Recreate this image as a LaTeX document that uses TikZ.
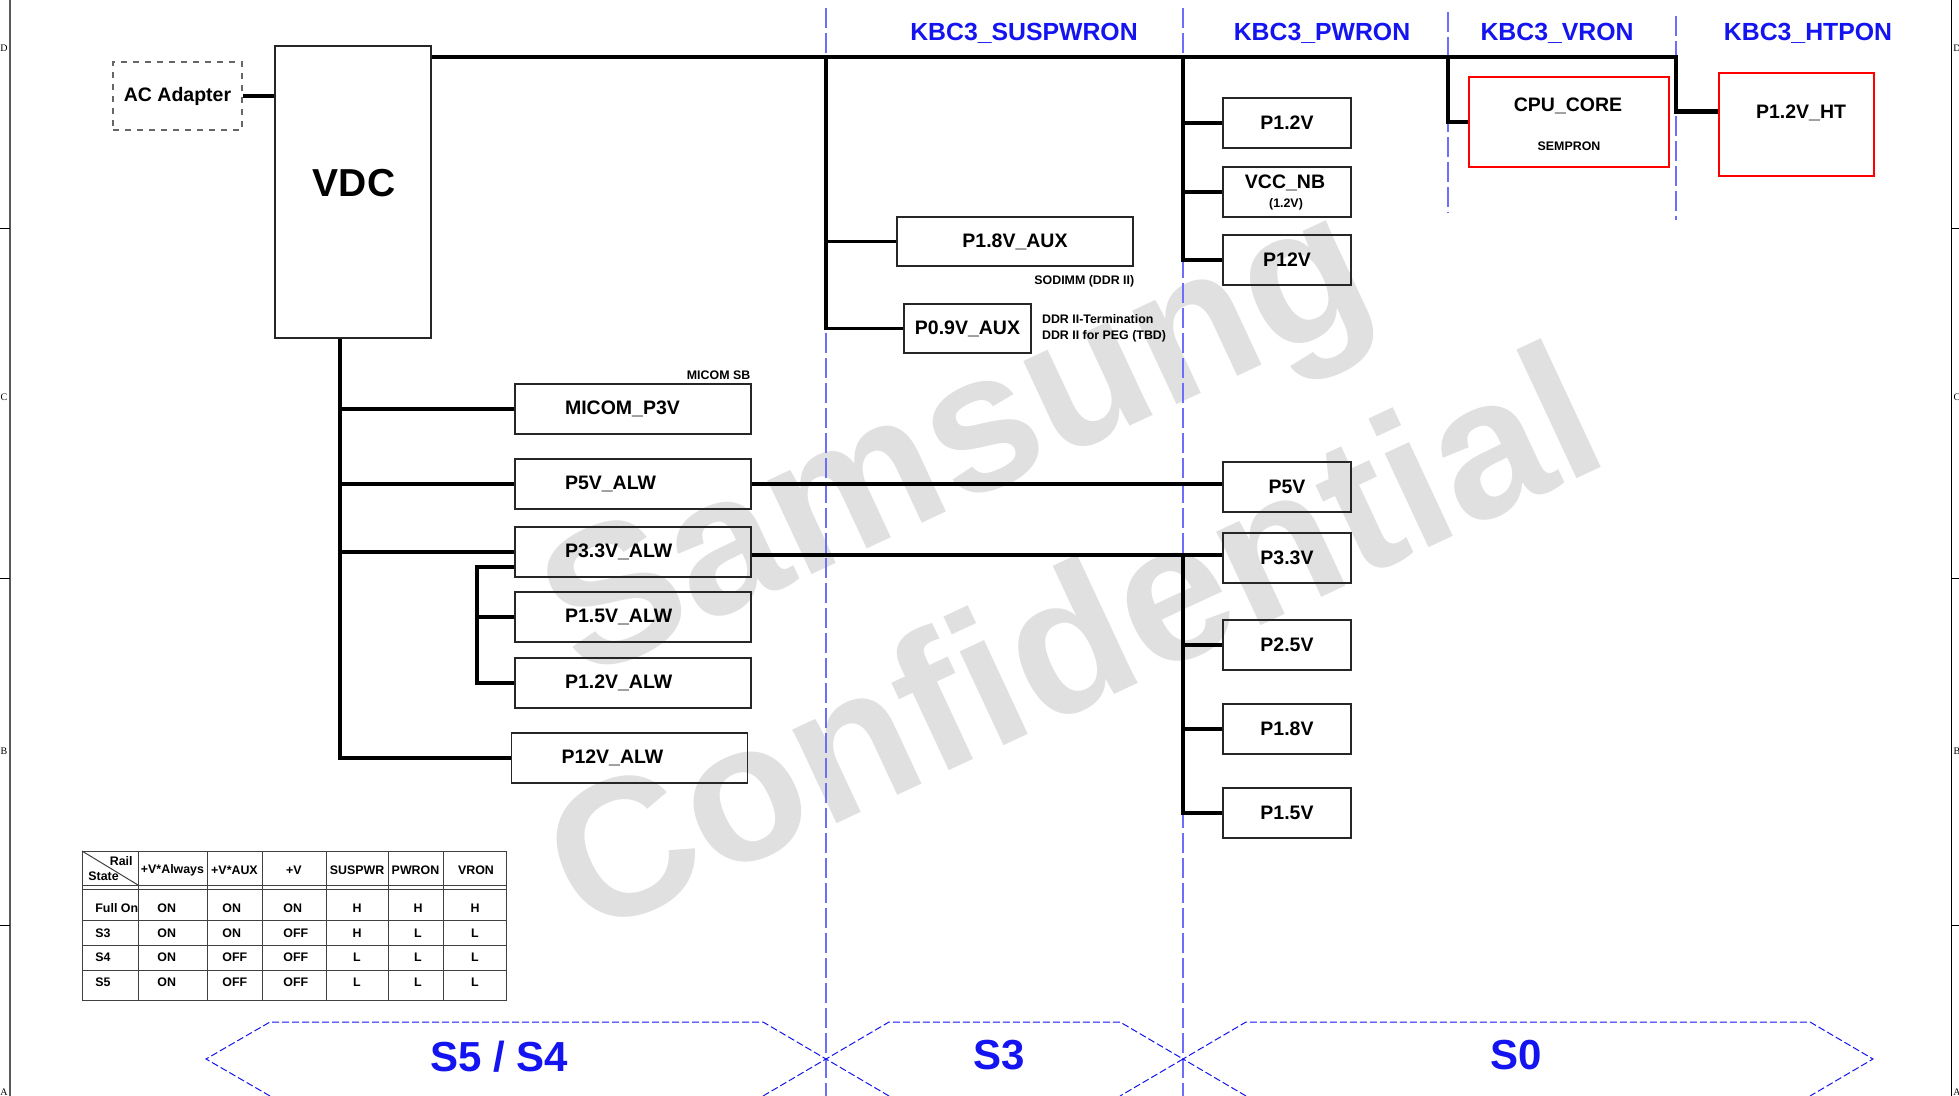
\documentclass[tikz,border=0pt]{standalone}
\usepackage{fontspec}
\setmainfont{Liberation Sans}
\newfontfamily\serifletters{Liberation Serif}
\usetikzlibrary{positioning,calc}

\definecolor{kbcblue}{RGB}{20,20,240}
\definecolor{phaseblue}{RGB}{110,110,250}
\definecolor{wmark}{RGB}{224,224,224}
\definecolor{frameline}{RGB}{90,90,90}

\begin{document}
\begin{tikzpicture}[
	x=0.5pt, y=-0.5pt,
	lbl/.style={inner sep=0pt, font=\bfseries\fontsize{9.75}{11}\selectfont},
	rail/.style={lbl, rectangle, draw=black!85, line width=0.65pt},
	alw/.style={rail, minimum height=25pt, text width=68pt, inner xsep=25pt, align=left},
	vbox/.style={rail, minimum width=64pt, minimum height=25pt},
	cpu/.style={rail, draw=red},
	note/.style={inner sep=0pt, font=\bfseries\fontsize{6.2}{8}\selectfont},
	kbc/.style={inner sep=0pt, text=kbcblue, font=\bfseries\fontsize{12.4}{14}\selectfont},
	state/.style={inner sep=0pt, text=kbcblue, font=\bfseries\fontsize{21}{24}\selectfont},
	bus/.style={line width=2.3pt},
	wire/.style={line width=1.6pt},
	phase/.style={draw=phaseblue, line width=0.65pt, dash pattern=on 10pt off 2.5pt},
	hexa/.style={draw=kbcblue, line width=0.5pt, dash pattern=on 3.5pt off 1.5pt},
	tline/.style={draw=black!75, line width=0.5pt},
	cell/.style={inner sep=0pt, font=\bfseries\fontsize{6.2}{7.5}\selectfont},
	wmtext/.style={inner sep=0pt, text=wmark, rotate=25, font=\bfseries\fontsize{98}{100}\selectfont},
	zone/.style={inner sep=0pt, font=\serifletters\fontsize{5}{6}\selectfont}
]
\useasboundingbox (0,0) rectangle (1959,1096);

% --- Watermark ---
\node[wmtext] (wm1) at (962,452) {Samsung};
\node[wmtext] (wm2) at (1071,637) {Confidential};

% --- Sheet frame ---
\draw[frameline, line width=0.8pt] (10,0) -- (10,1096);
\draw[line width=0.5pt] (1951,0) -- (1951,1096);
\foreach \ty in {229,578,925} {
  \draw[line width=0.5pt] (0,\ty) -- (10,\ty);
  \draw[line width=0.5pt] (1951,\ty) -- (1959,\ty);
}
\foreach \zl/\zy in {D/48,C/397,B/751,A/1092} {
  \node[zone] (zl\zl) at (4,\zy) {\zl};
  \node[zone] (zr\zl) at (1957,\zy) {\zl};
}

% --- Power state boundaries ---
\draw[phase] (826,8) -- (826,1096);
\draw[phase] (1183,8) -- (1183,1096);
\draw[phase] (1448,12) -- (1448,213);
\draw[phase] (1676,16) -- (1676,220);

\node[kbc] (lsus) at (1024,33) {KBC3\_SUSPWRON};
\node[kbc] (lpwr) at (1322,33) {KBC3\_PWRON};
\node[kbc] (lvr) at (1557,33) {KBC3\_VRON};
\node[kbc] (lhtp) at (1808,33) {KBC3\_HTPON};

\coordinate (sus) at (826,57);
\coordinate (pwr) at (1183,57);
\coordinate (vr) at (1448,57);
\coordinate (htp) at (1676,57);

% --- Source ---
\node[rail, dashed, draw=black!60, minimum width=64.5pt, minimum height=34pt] (acad) at (177.5,96) {AC Adapter};
\node[rail, minimum width=78pt, minimum height=146pt] (vdc) at (353,192) {};
\node[inner sep=0pt, font=\bfseries\fontsize{19.5}{22}\selectfont] (vdcT) at (354,183) {VDC};

% --- Always rails ---
\node[alw] (micom) at (633,409) {MICOM\_P3V};
\node[note, above left=1.5pt and 0.5pt of micom.north east] (micomsb) {MICOM SB};
\node[alw] (p5alw) at (633,484) {P5V\_ALW};
\node[alw] (p33alw) at (633,552) {P3.3V\_ALW};
\node[alw] (p15alw) at (633,617) {P1.5V\_ALW};
\node[alw] (p12alw) at (633,683) {P1.2V\_ALW};
\node[alw] (p12valw) at (629.5,758) {P12V\_ALW};

% --- AUX rails ---
\node[rail, minimum width=118pt, minimum height=24.5pt] (p18aux) at (1015,241.5) {P1.8V\_AUX};
\node[note, below left=4pt and -0.5pt of p18aux.south east] (sodimm) {SODIMM (DDR II)};
\node[rail, minimum width=63.5pt, minimum height=24.5pt] (p09aux) at (967.5,328.5) {P0.9V\_AUX};
\node[note, align=left, right=5pt of p09aux] (ddrnote) {DDR II-Termination\\DDR II for PEG (TBD)};

% --- Run rails ---
\node[vbox] (p12) at (1287,123) {P1.2V};
\node[vbox] (vccnb) at (1287,192) {};
\node[lbl] (vccnbT) at (1285,183) {VCC\_NB};
\node[note] (vccnbV) at (1286,204) {(1.2V)};
\node[vbox] (p12v) at (1287,260) {P12V};

\node[vbox] (p5) at (1287,487) {P5V};
\node[vbox] (p33) at (1287,558) {P3.3V};
\node[vbox] (p25) at (1287,645) {P2.5V};
\node[vbox] (p18) at (1287,729) {P1.8V};
\node[vbox] (p15) at (1287,813) {P1.5V};

% --- CPU rails ---
\node[cpu, minimum width=100pt, minimum height=45pt] (cpucore) at (1569,122) {};
\node[lbl] (cpucoreT) at (1568,106) {CPU\_CORE};
\node[note] (sempron) at (1569,146) {SEMPRON};
\node[cpu, minimum width=77.5pt, minimum height=51.5pt] (p12ht) at (1796.5,124.5) {};
\node[lbl] (p12htT) at (1801,113) {P1.2V\_HT};

% --- Connections ---
\draw[bus] (acad.east) -- (acad.east -| vdc.west);
\draw[bus] (vdc.east |- sus) -- (htp) |- ([yshift=6.5pt]p12ht.west);
\draw[wire] (sus) |- (p09aux.west);
\draw[wire] (sus |- p18aux.west) -- (p18aux.west);
\draw[bus] (pwr) |- (p12v.west);
\draw[bus] (pwr |- p12.west) -- (p12.west);
\draw[bus] (pwr |- vccnb.west) -- (vccnb.west);
\draw[bus] (vr) |- (cpucore.west);

\coordinate (vdcout) at ([xshift=-6.5pt]vdc.south);
\draw[bus] (vdcout) |- (p12valw.west);
\foreach \n in {micom,p5alw,p33alw}
  \draw[bus] (vdcout |- \n.west) -- (\n.west);
\coordinate (tap) at (477,567);
\draw[bus] ([yshift=-7.5pt]p33alw.west) -- (tap) |- (p12alw.west);
\draw[bus] (tap |- p15alw.west) -- (p15alw.west);

\draw[wire] (p5alw.east) -- (p5alw.east -| p5.west);
\coordinate (j33) at (1183,555);
\draw[wire] ([yshift=-1.5pt]p33alw.east) -- (j33 -| p33.west);
\draw[wire] (j33) |- (p15.west);
\foreach \n in {p25,p18}
  \draw[wire] (j33 |- \n.west) -- (\n.west);

% --- Power states ---
\draw[hexa] (270,1096) -- (206,1059) -- (270,1022) -- (763,1022) -- (826,1059) -- (763,1096);
\draw[hexa] (889,1096) -- (826,1059) -- (889,1022) -- (1120,1022) -- (1183,1059) -- (1120,1096);
\draw[hexa] (1246,1096) -- (1183,1059) -- (1246,1022) -- (1810,1022) -- (1873,1059) -- (1810,1096);
\node[state] (s54) at (499,1057) {S5 / S4};
\node[state] (s3) at (999,1055) {S3};
\node[state] (s0) at (1516,1055) {S0};

% --- Rail state table ---
\draw[tline] (82,851) rectangle (506,1000);
\foreach \cx in {138,207,262,326,388,443} \draw[tline] (\cx,851) -- (\cx,1000);
\foreach \ry in {885,889,920,945,970} \draw[tline] (82,\ry) -- (506,\ry);
\draw[tline] (82,851) -- (138,885);
\node[cell, anchor=east] (hrail) at (133,861) {Rail};
\node[cell, anchor=west] (hstate) at (88,876) {State};
\foreach \txt/\cx [count=\k] in {+V*Always/172.5, +V*AUX/234.5, +V/294, SUSPWR/357, PWRON/415.5, VRON/476}
  \node[cell] (h\k) at (\cx,870) {\txt};
\foreach \st/\a/\b/\c/\d/\e/\f/\ry [count=\r] in {Full On/ON/ON/ON/H/H/H/908, S3/ON/ON/OFF/H/L/L/933, S4/ON/OFF/OFF/L/L/L/957, S5/ON/OFF/OFF/L/L/L/982} {
  \node[cell, anchor=west] (st\r) at (95,\ry) {\st};
  \node[cell, anchor=west] (va\r) at (157,\ry) {\a};
  \node[cell, anchor=west] (vb\r) at (222,\ry) {\b};
  \node[cell, anchor=west] (vc\r) at (283,\ry) {\c};
  \node[cell] (vd\r) at (357,\ry) {\d};
  \node[cell] (ve\r) at (418,\ry) {\e};
  \node[cell] (vf\r) at (475,\ry) {\f};
}

\end{tikzpicture}
\end{document}
